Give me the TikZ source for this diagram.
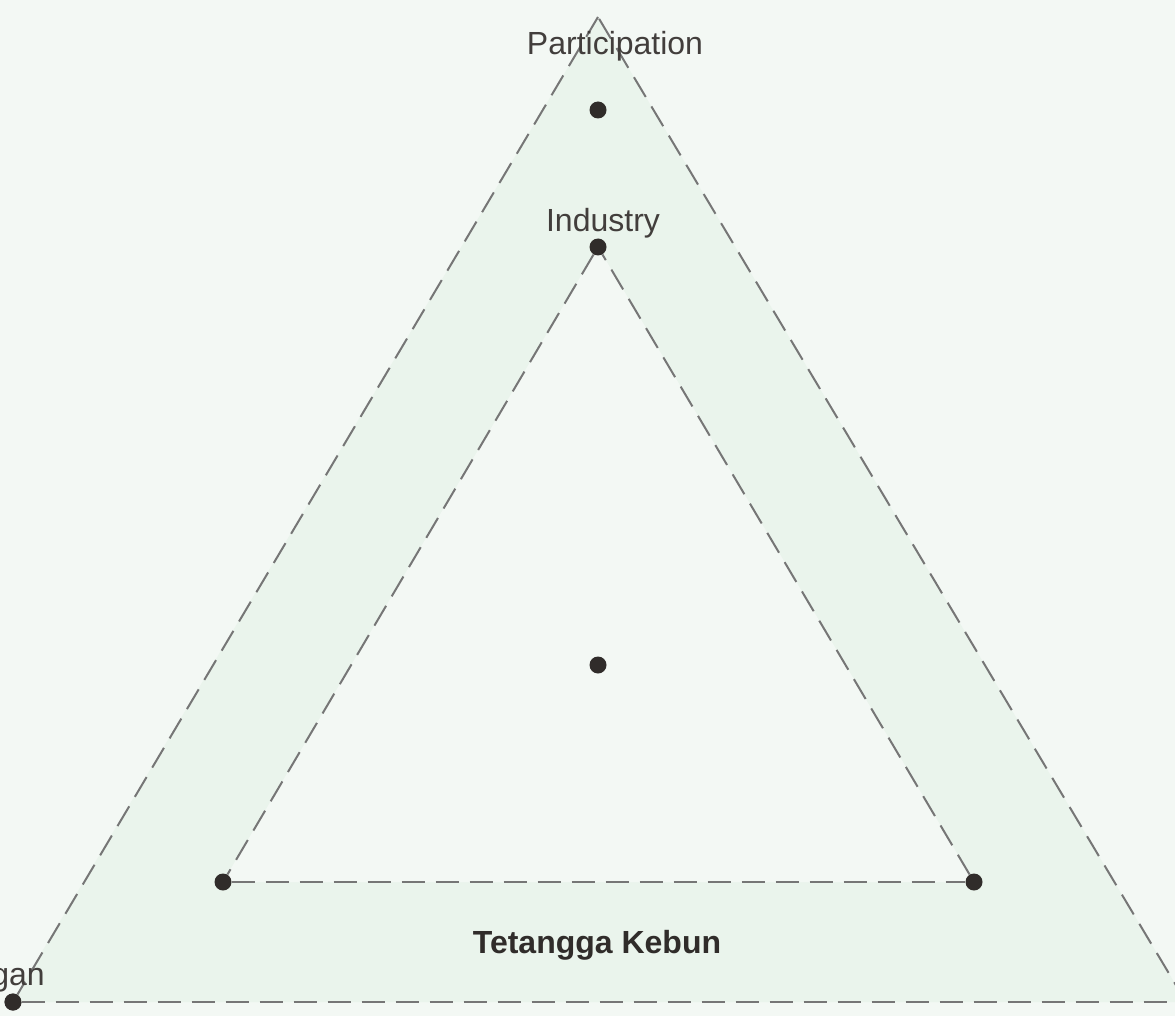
\documentclass[tikz,border=0pt]{standalone}
\usepackage{fontspec}
\setmainfont{Liberation Sans}
\begin{document}
\begin{tikzpicture}[x=1pt,y=-1pt,
  dashline/.style={draw=linegray,line width=2pt,dash pattern=on 23pt off 11pt},
  dotnode/.style={circle,fill=dotcol,inner sep=0pt,minimum size=17pt},
  lbl/.style={font=\fontsize{32}{38}\selectfont,text=lblcol,inner sep=0pt},
  bold/.style={font=\fontsize{32}{38}\selectfont\bfseries,text=dotcol,inner sep=0pt}]
\definecolor{bgcol}{RGB}{243,248,244}
\definecolor{bandcol}{RGB}{234,244,236}
\definecolor{linegray}{RGB}{118,118,118}
\definecolor{dotcol}{RGB}{48,44,42}
\definecolor{lblcol}{RGB}{66,62,60}
\fill[bgcol] (0,0) rectangle (1175,1016);
\useasboundingbox (0,0) rectangle (1175,1016);
% outer triangle vertices
\coordinate (oa) at (598,17);
\coordinate (oc) at (1186,1002);
% dots
\node[dotnode] (bl) at (13,1002) {};
\node[dotnode] (top) at (598,110) {};
\node[dotnode] (ind) at (598,247) {};
\node[dotnode] (il) at (223,882) {};
\node[dotnode] (ir) at (974,882) {};
\node[dotnode] (ctr) at (598,665) {};
% fills
\fill[bandcol] (oa) -- (12,1002) -- (oc) -- cycle;
\fill[bgcol] (ind.center) -- (il.center) -- (ir.center) -- cycle;
% outer dashed triangle
\draw[dashline] (oa) -- (bl);
\draw[dashline] (bl) -- (oc);
\draw[dashline] (oc) -- (oa);
% inner dashed triangle
\draw[dashline] (ind) -- (il);
\draw[dashline] (il) -- (ir);
\draw[dashline] (ir) -- (ind);
% redraw dots on top
\foreach \n in {bl,top,ind,il,ir,ctr} \fill[dotcol] (\n) circle (8.5pt);
% labels
\node[lbl,anchor=base] (lp) at (615,55) {Participation};
\node[lbl,anchor=base] (li) at (603,232) {Industry};
\node[lbl,anchor=base east] (lg) at (45,985) {gan};
\node[bold,anchor=base] (lt) at (597,953) {Tetangga Kebun};
\end{tikzpicture}
\end{document}
